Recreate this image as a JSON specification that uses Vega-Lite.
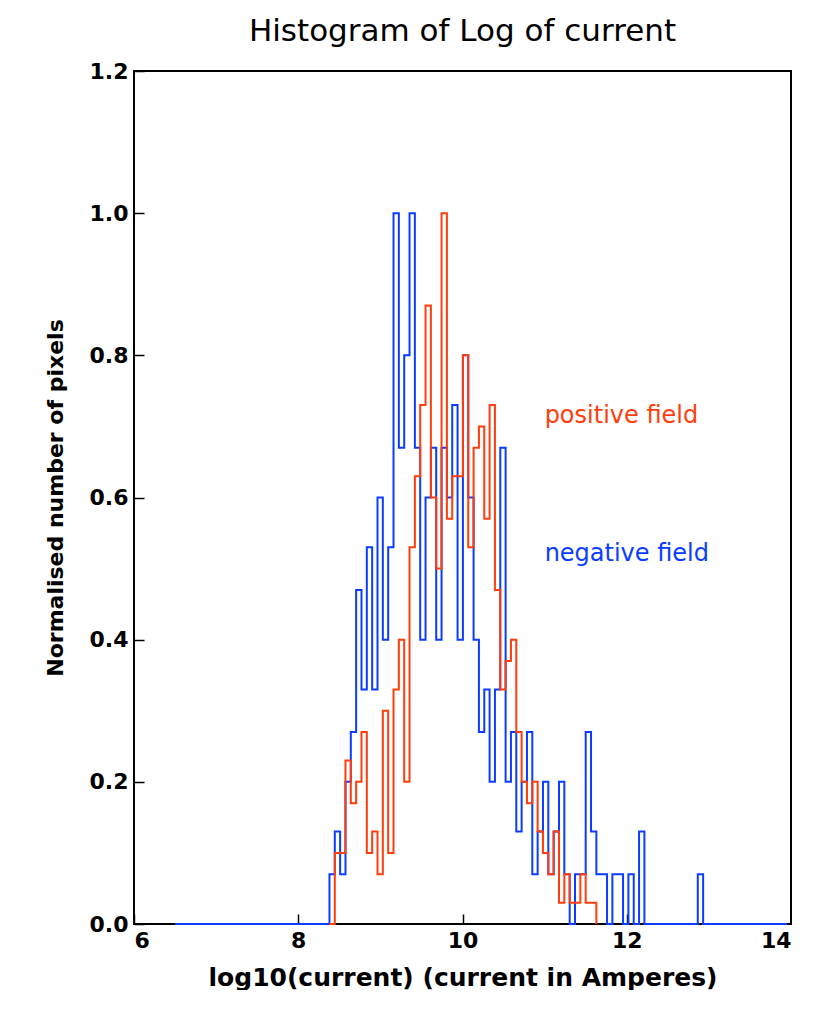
{
  "$schema": "https://vega.github.io/schema/vega-lite/v6.json",
  "width": 657,
  "height": 853,
  "padding": {"left": 44, "top": 16, "right": 0, "bottom": 0},
  "title": {"text": "Histogram of Log of current", "fontSize": 31, "font": "DejaVu Sans", "fontWeight": "normal", "offset": 12},
  "datasets": {
    "labels": [
      {"x": 11.0, "y": 0.715, "t": "positive field", "s": "positive"},
      {"x": 11.0, "y": 0.52, "t": "negative field", "s": "negative"}
    ],
    "hist": [
      {"x": 6.5, "s": "negative", "y": 0},
      {"x": 8.38, "s": "negative", "y": 0.07},
      {"x": 8.445, "s": "negative", "y": 0.13},
      {"x": 8.51, "s": "negative", "y": 0.07},
      {"x": 8.575, "s": "negative", "y": 0.2},
      {"x": 8.64, "s": "negative", "y": 0.27},
      {"x": 8.705, "s": "negative", "y": 0.47},
      {"x": 8.77, "s": "negative", "y": 0.33},
      {"x": 8.835, "s": "negative", "y": 0.53},
      {"x": 8.9, "s": "negative", "y": 0.33},
      {"x": 8.965, "s": "negative", "y": 0.6},
      {"x": 9.03, "s": "negative", "y": 0.4},
      {"x": 9.095, "s": "negative", "y": 0.53},
      {"x": 9.16, "s": "negative", "y": 1.0},
      {"x": 9.225, "s": "negative", "y": 0.67},
      {"x": 9.29, "s": "negative", "y": 0.8},
      {"x": 9.355, "s": "negative", "y": 1.0},
      {"x": 9.42, "s": "negative", "y": 0.67},
      {"x": 9.485, "s": "negative", "y": 0.4},
      {"x": 9.55, "s": "negative", "y": 0.6},
      {"x": 9.615, "s": "negative", "y": 0.67},
      {"x": 9.68, "s": "negative", "y": 0.4},
      {"x": 9.745, "s": "negative", "y": 0.67},
      {"x": 9.81, "s": "negative", "y": 0.6},
      {"x": 9.875, "s": "negative", "y": 0.73},
      {"x": 9.94, "s": "negative", "y": 0.4},
      {"x": 10.005, "s": "negative", "y": 0.8},
      {"x": 10.07, "s": "negative", "y": 0.6},
      {"x": 10.135, "s": "negative", "y": 0.4},
      {"x": 10.2, "s": "negative", "y": 0.27},
      {"x": 10.265, "s": "negative", "y": 0.33},
      {"x": 10.33, "s": "negative", "y": 0.2},
      {"x": 10.395, "s": "negative", "y": 0.33},
      {"x": 10.46, "s": "negative", "y": 0.67},
      {"x": 10.525, "s": "negative", "y": 0.2},
      {"x": 10.59, "s": "negative", "y": 0.27},
      {"x": 10.655, "s": "negative", "y": 0.13},
      {"x": 10.72, "s": "negative", "y": 0.2},
      {"x": 10.785, "s": "negative", "y": 0.27},
      {"x": 10.85, "s": "negative", "y": 0.07},
      {"x": 10.915, "s": "negative", "y": 0.13},
      {"x": 10.98, "s": "negative", "y": 0.2},
      {"x": 11.045, "s": "negative", "y": 0.07},
      {"x": 11.11, "s": "negative", "y": 0.13},
      {"x": 11.175, "s": "negative", "y": 0.2},
      {"x": 11.24, "s": "negative", "y": 0.07},
      {"x": 11.305, "s": "negative", "y": 0},
      {"x": 11.37, "s": "negative", "y": 0.07},
      {"x": 11.435, "s": "negative", "y": 0.07},
      {"x": 11.5, "s": "negative", "y": 0.27},
      {"x": 11.565, "s": "negative", "y": 0.13},
      {"x": 11.63, "s": "negative", "y": 0.07},
      {"x": 11.695, "s": "negative", "y": 0.07},
      {"x": 11.76, "s": "negative", "y": 0},
      {"x": 11.825, "s": "negative", "y": 0.07},
      {"x": 11.89, "s": "negative", "y": 0.07},
      {"x": 11.955, "s": "negative", "y": 0},
      {"x": 12.02, "s": "negative", "y": 0.07},
      {"x": 12.085, "s": "negative", "y": 0},
      {"x": 12.15, "s": "negative", "y": 0.13},
      {"x": 12.215, "s": "negative", "y": 0},
      {"x": 12.865, "s": "negative", "y": 0.07},
      {"x": 12.93, "s": "negative", "y": 0},
      {"x": 13.95, "s": "negative", "y": 0},
      {"x": 8.38, "s": "positive", "y": 0},
      {"x": 8.445, "s": "positive", "y": 0.1},
      {"x": 8.51, "s": "positive", "y": 0.1},
      {"x": 8.575, "s": "positive", "y": 0.23},
      {"x": 8.64, "s": "positive", "y": 0.17},
      {"x": 8.705, "s": "positive", "y": 0.2},
      {"x": 8.77, "s": "positive", "y": 0.27},
      {"x": 8.835, "s": "positive", "y": 0.1},
      {"x": 8.9, "s": "positive", "y": 0.13},
      {"x": 8.965, "s": "positive", "y": 0.07},
      {"x": 9.03, "s": "positive", "y": 0.3},
      {"x": 9.095, "s": "positive", "y": 0.1},
      {"x": 9.16, "s": "positive", "y": 0.33},
      {"x": 9.225, "s": "positive", "y": 0.4},
      {"x": 9.29, "s": "positive", "y": 0.2},
      {"x": 9.355, "s": "positive", "y": 0.53},
      {"x": 9.42, "s": "positive", "y": 0.63},
      {"x": 9.485, "s": "positive", "y": 0.73},
      {"x": 9.55, "s": "positive", "y": 0.87},
      {"x": 9.615, "s": "positive", "y": 0.6},
      {"x": 9.68, "s": "positive", "y": 0.5},
      {"x": 9.745, "s": "positive", "y": 1.0},
      {"x": 9.81, "s": "positive", "y": 0.57},
      {"x": 9.875, "s": "positive", "y": 0.63},
      {"x": 9.94, "s": "positive", "y": 0.63},
      {"x": 10.005, "s": "positive", "y": 0.8},
      {"x": 10.07, "s": "positive", "y": 0.53},
      {"x": 10.135, "s": "positive", "y": 0.67},
      {"x": 10.2, "s": "positive", "y": 0.7},
      {"x": 10.265, "s": "positive", "y": 0.57},
      {"x": 10.33, "s": "positive", "y": 0.73},
      {"x": 10.395, "s": "positive", "y": 0.47},
      {"x": 10.46, "s": "positive", "y": 0.33},
      {"x": 10.525, "s": "positive", "y": 0.37},
      {"x": 10.59, "s": "positive", "y": 0.4},
      {"x": 10.655, "s": "positive", "y": 0.27},
      {"x": 10.72, "s": "positive", "y": 0.2},
      {"x": 10.785, "s": "positive", "y": 0.17},
      {"x": 10.85, "s": "positive", "y": 0.2},
      {"x": 10.915, "s": "positive", "y": 0.13},
      {"x": 10.98, "s": "positive", "y": 0.1},
      {"x": 11.045, "s": "positive", "y": 0.07},
      {"x": 11.11, "s": "positive", "y": 0.13},
      {"x": 11.175, "s": "positive", "y": 0.03},
      {"x": 11.24, "s": "positive", "y": 0.07},
      {"x": 11.305, "s": "positive", "y": 0.03},
      {"x": 11.37, "s": "positive", "y": 0.03},
      {"x": 11.435, "s": "positive", "y": 0.07},
      {"x": 11.5, "s": "positive", "y": 0.03},
      {"x": 11.565, "s": "positive", "y": 0.03},
      {"x": 11.63, "s": "positive", "y": 0}
    ]
  },
  "layer": [
    {
      "data": {"name": "hist"},
      "mark": {"type": "line", "interpolate": "step-after", "strokeWidth": 2},
      "encoding": {
        "x": {"field": "x", "type": "quantitative", "scale": {"domain": [6, 14]},
          "axis": {"title": "log10(current) (current in Amperes)", "values": [6, 8, 10, 12, 14], "format": "d", "titlePadding": 14, "titleFontSize": 25}},
        "y": {"field": "y", "type": "quantitative", "scale": {"domain": [0, 1.2]},
          "axis": {"title": "Normalised number of pixels", "values": [0, 0.2, 0.4, 0.6, 0.8, 1.0, 1.2], "format": ".1f", "titlePadding": 22}},
        "color": {"field": "s", "type": "nominal", "scale": {"domain": ["positive", "negative"], "range": ["#ff3d0d", "#0a3dff"]}, "legend": null},
        "order": {"field": "x", "type": "quantitative"}
      }
    },
    {
      "data": {"name": "labels"},
      "mark": {"type": "text", "align": "left", "fontSize": 24, "font": "DejaVu Sans"},
      "encoding": {
        "x": {"field": "x", "type": "quantitative"},
        "y": {"field": "y", "type": "quantitative"},
        "text": {"field": "t"},
        "color": {"field": "s", "type": "nominal", "legend": null}
      }
    }
  ],
  "config": {
    "font": "DejaVu Sans",
    "view": {"stroke": "black", "strokeWidth": 2},
    "axis": {"grid": false, "domain": false, "tickColor": "black", "tickSize": -10, "tickWidth": 1.5,
      "labelFontSize": 22, "labelFontWeight": "bold", "labelColor": "black", "titleFontSize": 22, "titleFontWeight": "bold", "titleColor": "black", "labelPadding": 16}
  }
}
